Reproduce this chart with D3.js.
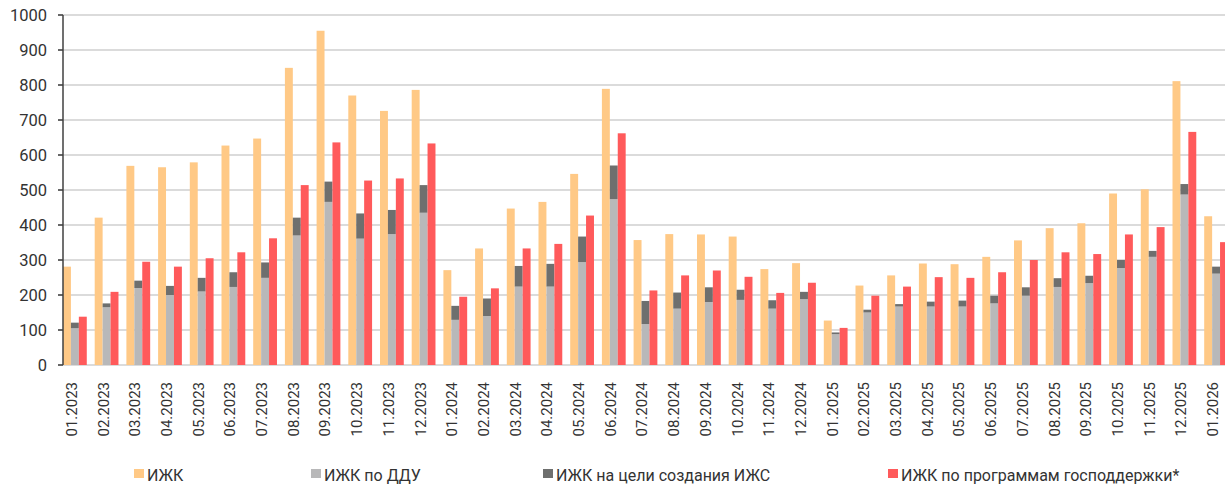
<!DOCTYPE html>
<html>
<head>
<meta charset="utf-8">
<script src="https://cdn.jsdelivr.net/npm/d3@7"></script>
<style>
  body { margin: 0; background: #fff; }
  svg { display: block; font-family: Roboto, "Noto Sans", sans-serif; }
</style>
</head>
<body>
<svg id="chart" width="1225" height="486"></svg>
<script>
var months = ["01.2023","02.2023","03.2023","04.2023","05.2023","06.2023","07.2023","08.2023","09.2023","10.2023","11.2023","12.2023",
  "01.2024","02.2024","03.2024","04.2024","05.2024","06.2024","07.2024","08.2024","09.2024","10.2024","11.2024","12.2024",
  "01.2025","02.2025","03.2025","04.2025","05.2025","06.2025","07.2025","08.2025","09.2025","10.2025","11.2025","12.2025",
  "01.2026"];

// ИЖК всего
var izhk = [281,421,569,565,579,627,647,849,955,770,726,786,271,333,447,466,546,789,357,374,373,367,274,291,127,227,256,290,288,309,356,391,405,490,502,811,425];
// ИЖК по ДДУ
var ddu = [105,165,220,200,210,223,249,370,466,361,374,435,129,140,224,224,294,474,117,161,180,186,161,188,88,150,167,167,167,176,198,223,234,277,309,487,261];
// ИЖК на цели создания ИЖС (stacked on top of ДДУ)
var izhs = [16,11,21,26,39,42,44,51,58,72,69,79,40,50,59,65,73,96,66,46,42,29,24,21,5,8,7,14,17,22,24,25,21,23,17,30,20];
// ИЖК по программам господдержки
var gov = [138,209,295,281,305,322,362,514,636,527,533,633,195,219,333,346,427,662,213,256,270,252,206,235,106,198,224,251,249,265,300,322,317,373,394,666,351];

var yTicks = [0,100,200,300,400,500,600,700,800,900,1000];
var legendItems = ["ИЖК", "ИЖК по ДДУ", "ИЖК на цели создания ИЖС", "ИЖК по программам господдержки*"];
var colors = {izhk: "#ffc986", ddu: "#b8b8b9", izhs: "#6e6f6e", gov: "#ff5a5b"};

var margin = {top: 15, left: 63, bottom: 121};
var svg = d3.select("#chart");
var plotH = 486 - margin.top - margin.bottom;

var x = d3.scaleBand()
  .domain(months)
  .range([margin.left, margin.left + 37 * 31.7])
  .paddingInner(0.25)
  .paddingOuter(0.125)
  .align(0);

var sub = d3.scaleBand()
  .domain(["a", "b", "c"])
  .range([0, x.bandwidth()]);

var y = d3.scaleLinear().domain([0, 1000]).range([margin.top + plotH, margin.top]);

// grid
svg.append("g")
  .selectAll("line")
  .data(yTicks)
  .join("line")
    .attr("x1", margin.left - 5)
    .attr("x2", 1225)
    .attr("y1", d => y(d))
    .attr("y2", d => y(d))
    .attr("stroke", "#cfcfcf")
    .attr("stroke-width", 1.5);

// y labels
svg.append("g")
  .selectAll("text")
  .data(yTicks)
  .join("text")
    .attr("x", 47)
    .attr("y", d => y(d))
    .attr("dy", "0.36em")
    .attr("text-anchor", "end")
    .attr("font-size", 16.5)
    .attr("fill", "#333")
    .text(d => d);

var rows = months.map((m, i) => ({m: m, izhk: izhk[i], ddu: ddu[i], izhs: izhs[i], gov: gov[i]}));

var g = svg.append("g")
  .selectAll("g")
  .data(rows)
  .join("g")
    .attr("transform", d => `translate(${x(d.m)},0)`);

g.append("rect")
  .attr("x", sub("a")).attr("width", sub.bandwidth())
  .attr("y", d => y(d.izhk)).attr("height", d => y(0) - y(d.izhk))
  .attr("fill", colors.izhk);

g.append("rect")
  .attr("x", sub("b")).attr("width", sub.bandwidth())
  .attr("y", d => y(d.ddu)).attr("height", d => y(0) - y(d.ddu))
  .attr("fill", colors.ddu);

g.append("rect")
  .attr("x", sub("b")).attr("width", sub.bandwidth())
  .attr("y", d => y(d.ddu + d.izhs)).attr("height", d => y(d.ddu) - y(d.ddu + d.izhs))
  .attr("fill", colors.izhs);

g.append("rect")
  .attr("x", sub("c")).attr("width", sub.bandwidth())
  .attr("y", d => y(d.gov)).attr("height", d => y(0) - y(d.gov))
  .attr("fill", colors.gov);

// left axis line + ticks
svg.append("line")
  .attr("x1", margin.left).attr("x2", margin.left)
  .attr("y1", y(1000)).attr("y2", y(0))
  .attr("stroke", "#404040").attr("stroke-width", 1.5);
svg.append("g")
  .selectAll("line")
  .data(yTicks)
  .join("line")
    .attr("x1", margin.left - 5).attr("x2", margin.left)
    .attr("y1", d => y(d)).attr("y2", d => y(d))
    .attr("stroke", "#404040").attr("stroke-width", 1.5);

// x labels
svg.append("g")
  .selectAll("text")
  .data(months)
  .join("text")
    .attr("transform", d => `translate(${x(d) + x.bandwidth() / 2 - 3 + 5},${y(0) + 17}) rotate(-90)`)
    .attr("text-anchor", "end")
    .attr("font-size", 15)
    .attr("fill", "#333")
    .text(d => d);

// legend
var legendX = [134, 311, 543, 888];
var legendColors = [colors.izhk, colors.ddu, colors.izhs, colors.gov];
var lg = svg.append("g")
  .selectAll("g")
  .data(legendItems)
  .join("g")
    .attr("transform", (d, i) => `translate(${legendX[i]},469)`);
lg.append("rect")
  .attr("width", 10).attr("height", 9)
  .attr("fill", (d, i) => legendColors[i]);
lg.append("text")
  .attr("x", 13).attr("y", 12)
  .attr("font-size", 16)
  .attr("fill", "#333")
  .text(d => d);
</script>
</body>
</html>
